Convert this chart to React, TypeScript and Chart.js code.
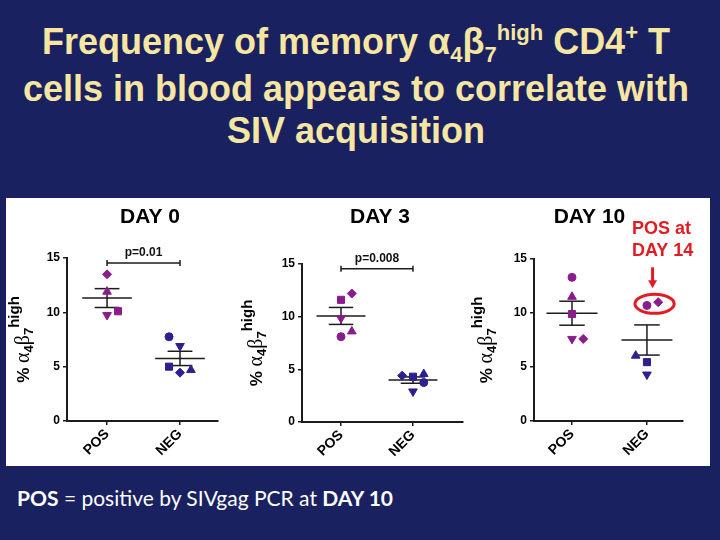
import React, { useEffect, useRef } from "react";
import { Chart, registerables } from "chart.js";
Chart.register(...registerables);

type Shape = "circle" | "square" | "diamond" | "up" | "down";

// ---------- data ----------
const groupLabels = ["POS", "NEG"];
const dayTitles = ["DAY 0", "DAY 3", "DAY 10"];
const pLabels = ["p=0.01", "p=0.008", ""];
const yTicks = [0, 5, 10, 15];

// Day 0
const day0PosValues = [13.5, 11.9, 10.1, 9.75];
const day0PosShapes: Shape[] = ["diamond", "up", "square", "down"];
const day0PosLanes = [0, 0, 1, 0];
const day0NegValues = [7.75, 6.9, 5.0, 4.45, 4.7];
const day0NegShapes: Shape[] = ["circle", "down", "square", "diamond", "up"];
const day0NegLanes = [-1, 0, -1, 0, 1];

// Day 3
const day3PosValues = [11.6, 12.2, 9.85, 8.1, 8.6];
const day3PosShapes: Shape[] = ["square", "diamond", "down", "circle", "up"];
const day3PosLanes = [0, 1, 0, 0, 1];
const day3NegValues = [4.4, 4.3, 4.55, 3.75, 2.9];
const day3NegShapes: Shape[] = ["diamond", "square", "up", "circle", "down"];
const day3NegLanes = [-1, 0, 1, 1, 0];

// Day 10
const day10PosValues = [13.3, 11.5, 9.9, 7.6, 7.6];
const day10PosShapes: Shape[] = ["circle", "up", "square", "down", "diamond"];
const day10PosLanes = [0, 0, 0, 0, 1];
const day10NegValues = [10.7, 11.0, 6.05, 5.45, 4.3];
const day10NegShapes: Shape[] = ["circle", "diamond", "up", "square", "down"];
const day10NegLanes = [0, 1, -1, 0, 0];
const day10NegPosAtDay14 = [true, true, false, false, false];

const annotationLines = ["POS at", "DAY 14"];

// ---------- styles ----------
const NAVY = "#1a2160";
const POS_COLOR = "#8b1c8c";
const NEG_COLOR = "#2d1f8e";
const RED = "#e31b23";
const INK = "#1c1c1c";
const SANS = '"Liberation Sans", Arial, sans-serif';
const SERIF = '"Liberation Serif", "DejaVu Serif", serif';
const LANE = 0.15;

const shapeStyle: Record<Shape, string> = {
  circle: "circle",
  square: "rect",
  diamond: "rectRot",
  up: "triangle",
  down: "triangle",
};
const shapeRadius: Record<Shape, number> = {
  circle: 4,
  square: 5,
  diamond: 4.5,
  up: 5,
  down: 5,
};

interface GroupData {
  values: number[];
  shapes: Shape[];
  lanes: number[];
  laterPos?: boolean[];
}

const panelData: GroupData[][] = [
  [
    { values: day0PosValues, shapes: day0PosShapes, lanes: day0PosLanes },
    { values: day0NegValues, shapes: day0NegShapes, lanes: day0NegLanes },
  ],
  [
    { values: day3PosValues, shapes: day3PosShapes, lanes: day3PosLanes },
    { values: day3NegValues, shapes: day3NegShapes, lanes: day3NegLanes },
  ],
  [
    { values: day10PosValues, shapes: day10PosShapes, lanes: day10PosLanes },
    {
      values: day10NegValues,
      shapes: day10NegShapes,
      lanes: day10NegLanes,
      laterPos: day10NegPosAtDay14,
    },
  ],
];

const panelLayouts = [
  { left: 0, width: 234, pad: { left: 31, right: 22, top: 60, bottom: 5 }, xMin: 0.451, xMax: 2.521, titleX: 144, yTitleOff: 38, bracketY: 14.55 },
  { left: 234, width: 230, pad: { left: 32, right: 7, top: 66, bottom: 4 }, xMin: 0.458, xMax: 2.695, titleX: 140, yTitleOff: 40, bracketY: 14.55 },
  { left: 464, width: 240, pad: { left: 34, right: 27, top: 61, bottom: 5 }, xMin: 0.493, xMax: 2.481, titleX: 119.5, yTitleOff: 42, bracketY: 0 },
];
const PANEL_H = 268;

const yTitleParts = [
  { text: "% ", font: `bold 17px ${SANS}`, dy: 0 },
  { text: "α", font: `20px ${SERIF}`, dy: 0 },
  { text: "4", font: `bold 13px ${SANS}`, dy: 4 },
  { text: "β", font: `20px ${SERIF}`, dy: 0 },
  { text: "7", font: `bold 13px ${SANS}`, dy: 4 },
  { text: "high", font: `bold 15px ${SANS}`, dy: -10 },
];

function makeDecor(pi: number) {
  const groups = panelData[pi];
  const lay = panelLayouts[pi];
  return {
    id: "decor" + pi,
    beforeDatasetsDraw(chart: any) {
      const { ctx, scales } = chart;
      const x = scales.x;
      const y = scales.y;
      ctx.save();
      ctx.strokeStyle = INK;
      ctx.lineWidth = 1.5;
      groups.forEach((g, gi) => {
        const n = g.values.length;
        const mean = g.values.reduce((a, b) => a + b, 0) / n;
        const sd = Math.sqrt(g.values.reduce((a, b) => a + (b - mean) ** 2, 0) / (n - 1));
        const sem = sd / Math.sqrt(n);
        const gx = gi + 1;
        const seg = (x1: number, y1: number, x2: number, y2: number) => {
          ctx.beginPath();
          ctx.moveTo(x.getPixelForValue(x1), y.getPixelForValue(y1));
          ctx.lineTo(x.getPixelForValue(x2), y.getPixelForValue(y2));
          ctx.stroke();
        };
        seg(gx - 0.34, mean, gx + 0.34, mean);
        seg(gx, mean - sem, gx, mean + sem);
        seg(gx - 0.17, mean + sem, gx + 0.17, mean + sem);
        seg(gx - 0.17, mean - sem, gx + 0.17, mean - sem);
      });
      ctx.restore();
    },
    afterDraw(chart: any) {
      const { ctx, scales, chartArea } = chart;
      const x = scales.x;
      const y = scales.y;
      ctx.save();
      // day title
      ctx.fillStyle = "#000";
      ctx.font = `bold 21px ${SANS}`;
      ctx.textAlign = "center";
      ctx.textBaseline = "alphabetic";
      ctx.fillText(dayTitles[pi], lay.titleX, 25);

      // y title
      ctx.save();
      const cy = (chartArea.top + chartArea.bottom) / 2;
      ctx.translate(chartArea.left - lay.yTitleOff, cy);
      ctx.rotate(-Math.PI / 2);
      ctx.textAlign = "left";
      let total = 0;
      const widths = yTitleParts.map((p) => {
        ctx.font = p.font;
        const w = ctx.measureText(p.text).width;
        total += w;
        return w;
      });
      let cx = -total / 2;
      yTitleParts.forEach((p, i) => {
        ctx.font = p.font;
        ctx.fillText(p.text, cx, p.dy);
        cx += widths[i];
      });
      ctx.restore();

      // p-value bracket
      if (pLabels[pi]) {
        const x1 = x.getPixelForValue(1);
        const x2 = x.getPixelForValue(2);
        const by = y.getPixelForValue(lay.bracketY);
        ctx.strokeStyle = INK;
        ctx.lineWidth = 1.5;
        ctx.beginPath();
        ctx.moveTo(x1, by);
        ctx.lineTo(x2, by);
        ctx.moveTo(x1, by - 3);
        ctx.lineTo(x1, by + 3);
        ctx.moveTo(x2, by - 3);
        ctx.lineTo(x2, by + 3);
        ctx.stroke();
        ctx.fillStyle = "#111";
        ctx.font = `bold 12px ${SANS}`;
        ctx.textAlign = "center";
        ctx.fillText(pLabels[pi], (x1 + x2) / 2, by - 7);
      }

      // annotation for later-positive animals
      groups.forEach((g, gi) => {
        if (!g.laterPos) return;
        const xs: number[] = [];
        const ys: number[] = [];
        g.laterPos.forEach((f, i) => {
          if (!f) return;
          xs.push(x.getPixelForValue(gi + 1 + g.lanes[i] * LANE));
          ys.push(y.getPixelForValue(g.values[i]));
        });
        if (!xs.length) return;
        const ecx = (Math.min(...xs) + Math.max(...xs)) / 2 + 2;
        const ecy = (Math.min(...ys) + Math.max(...ys)) / 2;
        const rx = (Math.max(...xs) - Math.min(...xs)) / 2 + 14;
        const ry = 9.5;
        ctx.strokeStyle = RED;
        ctx.lineWidth = 3;
        ctx.beginPath();
        ctx.ellipse(ecx, ecy, rx, ry, 0, 0, Math.PI * 2);
        ctx.stroke();
        const ax = ecx - 2;
        const tip = ecy - ry - 6;
        ctx.beginPath();
        ctx.moveTo(ax, tip - 21);
        ctx.lineTo(ax, tip - 6);
        ctx.stroke();
        ctx.fillStyle = RED;
        ctx.beginPath();
        ctx.moveTo(ax - 4.5, tip - 8);
        ctx.lineTo(ax + 4.5, tip - 8);
        ctx.lineTo(ax, tip);
        ctx.closePath();
        ctx.fill();
        ctx.font = `bold 18px ${SANS}`;
        ctx.textAlign = "center";
        ctx.fillText(annotationLines[0], ecx + 7, tip - 54);
        ctx.fillText(annotationLines[1], ecx + 8, tip - 32);
      });
      ctx.restore();
    },
  };
}

function Panel({ index }: { index: number }) {
  const ref = useRef<HTMLCanvasElement>(null);
  useEffect(() => {
    const lay = panelLayouts[index];
    const groups = panelData[index];
    const datasets = groups.map((g, gi) => {
      const colors = g.values.map((_, i) =>
        gi === 0 || (g.laterPos && g.laterPos[i]) ? POS_COLOR : NEG_COLOR
      );
      return {
        data: g.values.map((v, i) => ({ x: gi + 1 + g.lanes[i] * LANE, y: v })),
        pointStyle: g.shapes.map((s) => shapeStyle[s]),
        pointRotation: g.shapes.map((s) => (s === "down" ? 180 : 0)),
        pointRadius: g.shapes.map((s) => shapeRadius[s]),
        pointBackgroundColor: colors,
        pointBorderColor: colors,
        pointBorderWidth: 1,
        showLine: false,
      };
    });
    const axisGrid = {
      drawOnChartArea: false,
      drawTicks: true,
      color: INK,
      lineWidth: 1.5,
    };
    const chart = new Chart(ref.current!, {
      type: "scatter",
      data: { datasets: datasets as any },
      plugins: [makeDecor(index)],
      options: {
        animation: false,
        responsive: false,
        devicePixelRatio: 1,
        events: [],
        layout: { padding: lay.pad },
        plugins: { legend: { display: false }, tooltip: { enabled: false }, title: { display: false } },
        scales: {
          x: {
            type: "linear",
            min: lay.xMin,
            max: lay.xMax,
            afterBuildTicks: (s: any) => {
              s.ticks = groupLabels.map((_, i) => ({ value: i + 1 }));
            },
            afterFit: (s: any) => {
              s.height = 40;
            },
            ticks: {
              autoSkip: false,
              minRotation: 45,
              maxRotation: 45,
              padding: 1,
              color: "#000",
              font: { family: SANS, size: 14, weight: "bold" },
              callback: (v: any) => groupLabels[Math.round(v) - 1] ?? "",
            },
            grid: { ...axisGrid, tickLength: 4 },
            border: { display: true, color: INK, width: 2 },
          },
          y: {
            type: "linear",
            min: yTicks[0],
            max: yTicks[yTicks.length - 1],
            afterBuildTicks: (s: any) => {
              s.ticks = yTicks.map((v) => ({ value: v }));
            },
            afterFit: (s: any) => {
              s.width = 30;
            },
            ticks: {
              padding: 3,
              color: "#000",
              font: { family: SANS, size: 12, weight: "bold" },
            },
            grid: { ...axisGrid, tickLength: 4 },
            border: { display: true, color: INK, width: 2 },
          },
        },
      } as any,
    });
    return () => chart.destroy();
  }, [index]);
  const lay = panelLayouts[index];
  return (
    <canvas
      ref={ref}
      width={lay.width}
      height={PANEL_H}
      style={{ position: "absolute", left: lay.left, top: 0, width: lay.width, height: PANEL_H }}
    />
  );
}

const subStyle: React.CSSProperties = { fontSize: 22, position: "relative", top: 8 };
const supStyle: React.CSSProperties = { fontSize: 22, position: "relative", top: -14 };

export default function App() {
  useEffect(() => {
    document.body.style.margin = "0";
  }, []);
  return (
    <div
      style={{
        position: "absolute",
        left: 0,
        top: 0,
        width: 720,
        height: 540,
        background: NAVY,
        overflow: "hidden",
        fontFamily: SANS,
      }}
    >
      <div
        style={{
          position: "absolute",
          left: 0,
          top: 21,
          width: 712,
          textAlign: "center",
          color: "#f7e6a1",
          fontWeight: "bold",
          fontSize: 36,
          lineHeight: "42px",
          whiteSpace: "nowrap",
        }}
      >
        Frequency of memory α<span style={subStyle}>4</span>β<span style={subStyle}>7</span>
        <span style={supStyle}>high</span> CD4<span style={supStyle}>+</span> T
        <br />
        cells in blood appears to correlate with
        <br />
        SIV acquisition
      </div>
      <div
        style={{
          position: "absolute",
          left: 6,
          top: 198,
          width: 704,
          height: PANEL_H,
          background: "#fff",
        }}
      >
        {panelLayouts.map((_, i) => (
          <Panel key={i} index={i} />
        ))}
      </div>
      <div
        style={{
          position: "absolute",
          left: 17,
          top: 488,
          color: "#fff",
          fontFamily: 'Lato, "Open Sans", sans-serif',
          fontSize: 21,
          lineHeight: "20px",
          whiteSpace: "nowrap",
        }}
      >
        <b>POS</b> = positive by SIVgag PCR at <b>DAY 10</b>
      </div>
    </div>
  );
}
